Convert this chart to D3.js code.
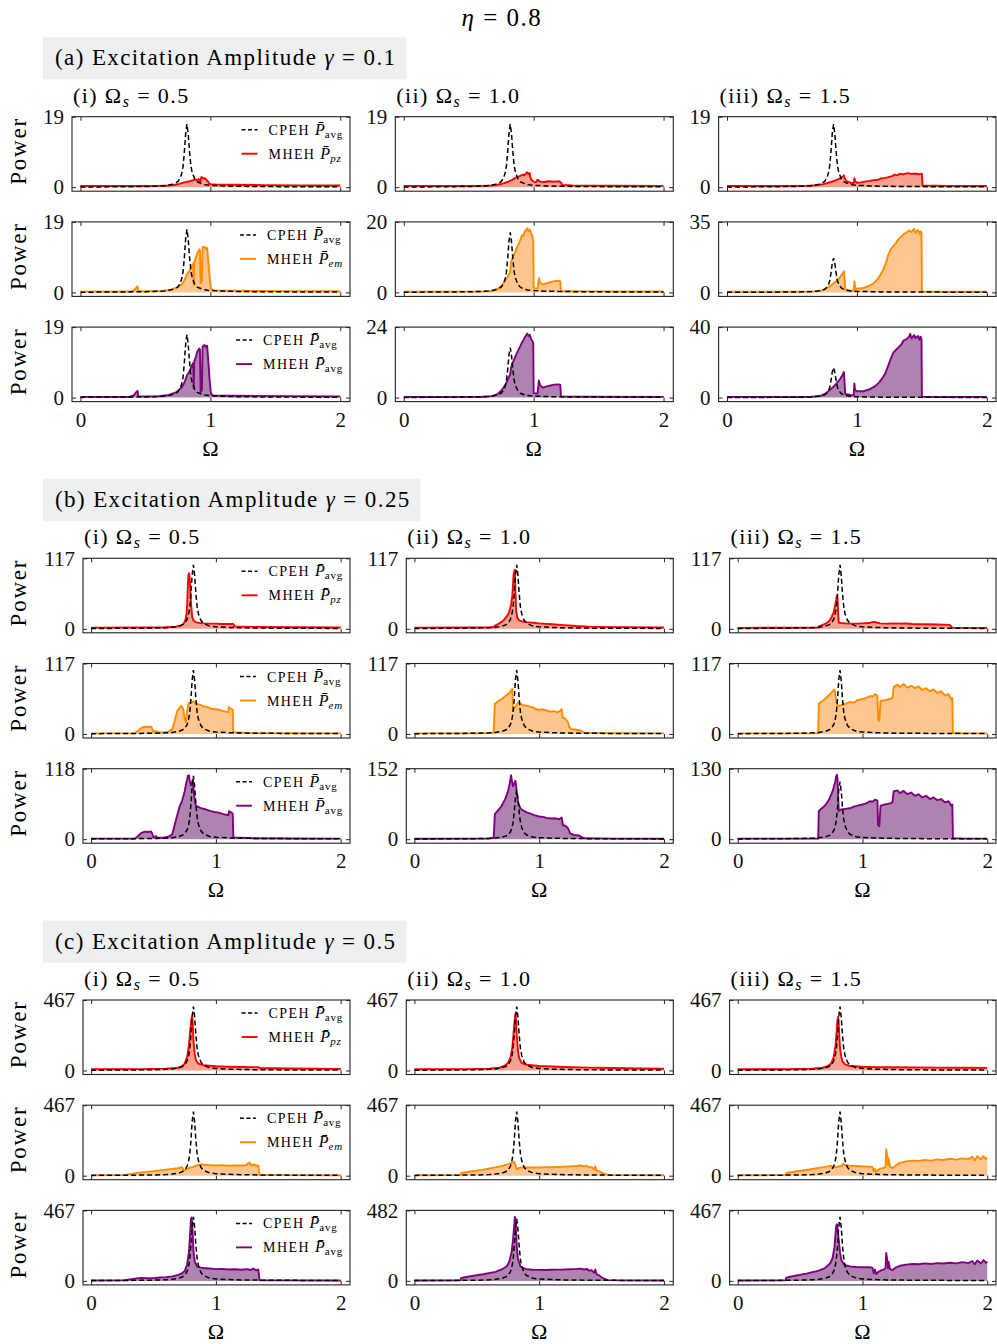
<!DOCTYPE html>
<html>
<head>
<meta charset="utf-8">
<script src="https://cdn.jsdelivr.net/npm/d3@7"></script>
<style>
  body { margin: 0; background: #fff; }
</style>
</head>
<body>
<svg id="fig"></svg>
<script>
// ---- labels / ticks ----
const omegaTicks = [0, 1, 2];
const sectionTags = ["(a)", "(b)", "(c)"];
const gammas = ["0.1", "0.25", "0.5"];
const colTags = ["(i)", "(ii)", "(iii)"];
const omegaS = ["0.5", "1.0", "1.5"];
const kinds = ["pz", "em", "avg"];

// top y tick per [column][row]
const yTopA = [[19, 19, 19], [19, 20, 24], [19, 35, 40]];
const yTopB = [[117, 117, 118], [117, 117, 152], [117, 117, 130]];
const yTopC = [[467, 467, 467], [467, 467, 482], [467, 467, 467]];

// ---- CPEH reference curves [Omega, P] ----
const cpehA = [[0,0.05],[0.3,0.1],[0.5,0.18],[0.6,0.28],[0.65,0.4],[0.7,0.7],[0.73,1.1],[0.75,1.5],[0.77,2.6],[0.78,3.8],[0.79,5.6],[0.8,9.5],[0.81,14.5],[0.82,17],[0.83,14.2],[0.84,9.5],[0.85,5.8],[0.86,4.0],[0.88,2.2],[0.9,1.4],[0.95,0.7],[1.0,0.5],[1.1,0.35],[1.2,0.25],[1.4,0.17],[1.7,0.12],[2.0,0.1]];
const cpehB = [[0,0.5],[0.3,0.8],[0.5,1.2],[0.6,1.9],[0.65,2.6],[0.7,4.2],[0.73,6.5],[0.75,9],[0.77,16],[0.78,23],[0.79,34],[0.8,58],[0.81,90],[0.82,106],[0.83,88],[0.84,58],[0.85,36],[0.86,25],[0.88,14],[0.9,9],[0.95,4.5],[1.0,3.2],[1.1,2.2],[1.2,1.6],[1.4,1.1],[1.7,0.8],[2.0,0.6]];
const cpehC = [[0,2],[0.3,3.2],[0.5,4.8],[0.6,7.5],[0.65,10.5],[0.7,17],[0.73,26],[0.75,36],[0.77,64],[0.78,92],[0.79,136],[0.8,232],[0.81,360],[0.82,424],[0.83,352],[0.84,232],[0.85,145],[0.86,100],[0.88,55],[0.9,36],[0.95,18],[1.0,13],[1.1,9],[1.2,6.5],[1.4,4.5],[1.7,3.2],[2.0,2.5]];

// ---- MHEH curves, gamma = 0.1 ----
const pzA1 = [[0,0.3],[0.3,0.3],[0.5,0.32],[0.6,0.35],[0.68,0.45],[0.72,0.6],[0.76,0.9],[0.8,1.3],[0.84,1.6],[0.87,1.9],[0.89,2.1],[0.9,1.8],[0.91,2.2],[0.915,1.3],[0.925,1.4],[0.93,2.7],[0.94,2.5],[0.95,2.3],[0.96,2.4],[0.97,2.0],[0.98,1.6],[0.99,1.1],[1.0,0.8],[1.05,0.7],[1.2,0.65],[1.4,0.55],[1.7,0.5],[2,0.45]];
const emA1 = [[0,0.2],[0.38,0.22],[0.41,0.5],[0.43,1.3],[0.44,1.6],[0.445,0.35],[0.5,0.3],[0.6,0.35],[0.68,0.6],[0.74,1.2],[0.78,2.2],[0.8,3.2],[0.82,5],[0.84,5.8],[0.86,7.4],[0.868,7.8],[0.872,2],[0.876,8.2],[0.9,10.6],[0.915,11.6],[0.92,11.4],[0.925,2.5],[0.935,3],[0.94,12.2],[0.955,12.3],[0.965,11.6],[0.975,12],[0.985,8],[0.995,4],[1.005,1],[1.02,0.55],[1.2,0.45],[1.6,0.35],[2,0.3]];
const avgA1 = [[0,0.2],[0.38,0.22],[0.41,0.6],[0.43,1.5],[0.44,1.8],[0.445,0.35],[0.5,0.3],[0.6,0.35],[0.68,0.7],[0.74,1.5],[0.78,2.8],[0.8,4],[0.82,6],[0.84,7],[0.86,8.8],[0.868,9.3],[0.872,2.5],[0.876,9.6],[0.9,12.4],[0.915,13.2],[0.92,13],[0.925,1.5],[0.935,2],[0.94,13.8],[0.955,14.2],[0.965,13.6],[0.975,14],[0.985,9.5],[0.995,4.5],[1.005,1],[1.02,0.6],[1.2,0.5],[1.6,0.4],[2,0.3]];
const pzA2 = [[0,0.3],[0.4,0.3],[0.6,0.35],[0.68,0.45],[0.72,0.65],[0.76,0.95],[0.8,1.4],[0.83,1.9],[0.86,2.5],[0.88,2.8],[0.9,3.1],[0.92,3.4],[0.93,3.2],[0.94,3.7],[0.95,4.0],[0.96,3.5],[0.97,3.8],[0.975,2.6],[0.985,1.9],[1.0,1.5],[1.02,1.4],[1.03,2.0],[1.05,1.5],[1.08,1.4],[1.12,1.6],[1.16,1.5],[1.19,1.6],[1.21,1.3],[1.22,0.6],[1.3,0.5],[1.6,0.4],[2,0.35]];
const emA2 = [[0,0.2],[0.6,0.25],[0.68,0.4],[0.72,0.9],[0.75,1.8],[0.78,3.2],[0.8,4.5],[0.82,5.8],[0.825,8.6],[0.84,10],[0.86,11.8],[0.88,13.5],[0.9,15],[0.91,16.2],[0.92,16],[0.93,17.2],[0.94,17.6],[0.95,18.2],[0.96,17.4],[0.97,17.8],[0.98,16.8],[0.99,16],[0.997,14.5],[1.0,1.2],[1.03,1.1],[1.04,4],[1.05,2.8],[1.07,2.2],[1.1,2.6],[1.13,2.9],[1.16,3.2],[1.19,3.3],[1.205,3.1],[1.21,0.4],[1.4,0.3],[2,0.25]];
const avgA2 = [[0,0.2],[0.6,0.28],[0.68,0.5],[0.72,1.1],[0.75,2.3],[0.78,4.2],[0.8,6],[0.82,8],[0.825,10],[0.84,12],[0.86,14],[0.88,16],[0.9,17.8],[0.91,18.8],[0.92,19.4],[0.93,20.4],[0.94,21],[0.95,21.8],[0.96,21],[0.97,21.4],[0.98,20],[0.99,19.2],[0.997,18.5],[1.0,1.5],[1.03,1.4],[1.04,5.8],[1.05,4.2],[1.07,3.4],[1.1,3.8],[1.13,4.1],[1.16,4.4],[1.19,4.5],[1.205,4.3],[1.21,0.4],[1.4,0.3],[2,0.25]];
const pzA3 = [[0,0.3],[0.4,0.3],[0.6,0.35],[0.7,0.55],[0.75,0.9],[0.8,1.4],[0.84,1.9],[0.87,2.4],[0.89,2.8],[0.9,3.2],[0.905,2.4],[0.92,1.6],[0.95,1.2],[0.975,1.1],[0.98,2.4],[0.99,1.5],[1.0,1.2],[1.03,1.3],[1.06,1.5],[1.1,1.7],[1.13,1.9],[1.16,2.0],[1.19,2.4],[1.22,2.5],[1.25,2.8],[1.27,3.0],[1.29,3.4],[1.31,3.2],[1.33,3.6],[1.36,3.5],[1.39,3.8],[1.42,3.6],[1.45,3.7],[1.48,3.5],[1.5,3.6],[1.505,0.45],[1.7,0.35],[2,0.3]];
const emA3 = [[0,0.3],[0.5,0.3],[0.65,0.4],[0.72,0.8],[0.76,1.8],[0.8,3.5],[0.84,5.5],[0.87,7.5],[0.89,9.5],[0.9,10.5],[0.905,6],[0.91,1.5],[0.95,0.9],[0.975,0.8],[0.98,5.5],[0.985,3.5],[0.99,1.6],[1.0,1.8],[1.05,2.2],[1.1,3.4],[1.14,5.2],[1.17,7.5],[1.2,11],[1.22,14],[1.24,18.5],[1.26,21.5],[1.28,23],[1.3,24.5],[1.32,26.5],[1.34,27.5],[1.36,29],[1.38,29.5],[1.4,30.8],[1.42,30],[1.44,31.6],[1.45,29.5],[1.47,31],[1.48,29.2],[1.49,30.4],[1.497,29.5],[1.5,0.4],[1.7,0.3],[2,0.3]];
const avgA3 = [[0,0.3],[0.5,0.3],[0.65,0.45],[0.72,1],[0.76,2.4],[0.8,4.8],[0.84,7.8],[0.87,10.5],[0.89,13],[0.9,14.5],[0.905,8],[0.91,2],[0.95,1.5],[0.975,1.4],[0.98,8],[0.985,5],[0.99,4],[1.0,3.6],[1.05,3.6],[1.1,4.8],[1.14,6.5],[1.17,8.5],[1.2,11.5],[1.22,14],[1.24,18],[1.26,22],[1.28,25.5],[1.3,27],[1.32,28.5],[1.34,30],[1.36,32.5],[1.38,33],[1.4,34.5],[1.41,36.2],[1.42,33.5],[1.44,35.5],[1.45,33.8],[1.47,35],[1.48,32.8],[1.49,34.6],[1.497,33],[1.5,0.4],[1.7,0.3],[2,0.3]];

// ---- MHEH curves, gamma = 0.25 ----
const pzB1 = [[0,2],[0.4,2.2],[0.6,2.6],[0.68,3.5],[0.72,5.5],[0.74,8],[0.755,14],[0.765,25],[0.77,40],[0.775,70],[0.78,90],[0.785,92],[0.79,84],[0.795,65],[0.8,45],[0.805,30],[0.81,20],[0.82,14],[0.84,11],[0.87,9.5],[0.9,9],[0.95,8.5],[1.0,8.5],[1.05,8],[1.1,8.2],[1.14,8],[1.15,4],[1.3,3.2],[1.6,2.6],[2,2.2]];
const emB1 = [[0,1],[0.35,1.2],[0.37,4],[0.4,10],[0.43,12],[0.46,11.5],[0.48,12.5],[0.49,9],[0.5,3],[0.52,5],[0.53,2.5],[0.58,2.5],[0.62,4],[0.65,8],[0.67,22],[0.69,38],[0.71,44],[0.725,47],[0.74,40],[0.75,24],[0.76,20],[0.77,38],[0.78,50],[0.79,53],[0.8,52],[0.82,54],[0.84,51],[0.86,49],[0.88,48],[0.9,46],[0.93,45],[0.96,42],[1.0,41],[1.03,40],[1.06,38],[1.08,37],[1.1,36],[1.105,45],[1.12,42],[1.135,40],[1.14,3],[1.3,1.5],[1.6,1.2],[2,1]];
const avgB1 = [[0,1],[0.35,1.2],[0.37,4],[0.4,10],[0.43,12.5],[0.46,12],[0.48,13],[0.49,9],[0.5,3],[0.52,5],[0.53,2.5],[0.58,2.5],[0.62,4],[0.65,8],[0.67,24],[0.69,40],[0.71,55],[0.73,65],[0.75,80],[0.76,92],[0.77,100],[0.775,106],[0.78,104],[0.785,107],[0.79,98],[0.8,90],[0.81,96],[0.815,100],[0.82,85],[0.83,66],[0.84,56],[0.86,54],[0.88,52],[0.9,51],[0.93,49],[0.96,47],[1.0,45],[1.03,44],[1.06,42],[1.08,41],[1.1,40],[1.105,47],[1.12,45],[1.135,43],[1.14,3],[1.3,1.5],[1.6,1.2],[2,1]];
const pzB2 = [[0,2],[0.4,2.2],[0.6,2.6],[0.63,3],[0.645,5],[0.68,9],[0.71,13],[0.74,20],[0.76,28],[0.775,40],[0.785,55],[0.79,72],[0.795,90],[0.8,95],[0.805,98],[0.81,60],[0.815,30],[0.825,18],[0.84,14],[0.87,12],[0.9,11],[0.95,10],[1.0,9],[1.1,7.5],[1.2,6],[1.3,4.5],[1.4,3.5],[1.6,2.8],[2,2.2]];
const emB2 = [[0,1],[0.5,1.2],[0.6,1.5],[0.635,2.5],[0.645,50],[0.67,54],[0.7,58],[0.73,63],[0.76,68],[0.785,75],[0.79,38],[0.8,42],[0.815,47],[0.83,52],[0.85,50],[0.87,48],[0.9,47],[0.93,45],[0.95,44],[0.98,41],[1.0,40],[1.03,41],[1.06,39],[1.09,37],[1.12,38],[1.15,36],[1.17,39],[1.18,41],[1.19,27],[1.21,25],[1.23,20],[1.24,12],[1.26,8],[1.3,7],[1.33,6],[1.36,2],[1.6,1.3],[2,1]];
const avgB2 = [[0,1],[0.5,1.2],[0.6,1.6],[0.635,3],[0.645,54],[0.67,62],[0.7,72],[0.73,88],[0.75,103],[0.765,122],[0.775,138],[0.78,128],[0.79,114],[0.8,120],[0.81,126],[0.82,102],[0.83,80],[0.85,66],[0.87,62],[0.9,58],[0.93,55],[0.96,52],[1.0,49],[1.03,48],[1.06,46],[1.1,44.5],[1.13,45],[1.16,43],[1.18,47],[1.19,30],[1.21,29],[1.23,24],[1.25,12],[1.28,9],[1.32,8],[1.36,2],[1.6,1.3],[2,1]];
const pzB3 = [[0,1.5],[0.4,1.7],[0.6,2],[0.645,2.2],[0.65,4],[0.7,8],[0.73,12],[0.75,18],[0.77,28],[0.78,38],[0.79,48],[0.795,55],[0.8,52],[0.805,25],[0.81,10],[0.83,9.5],[0.86,9],[0.9,8.5],[0.95,8.5],[1.0,9],[1.05,9.5],[1.08,11],[1.1,11.5],[1.12,10],[1.14,9],[1.2,8.5],[1.25,9],[1.3,8.5],[1.35,8.8],[1.4,8],[1.5,7.5],[1.6,7],[1.7,6.5],[1.72,2],[2,1.5]];
const emB3 = [[0,1],[0.6,1],[0.645,1.2],[0.65,50],[0.7,58],[0.74,66],[0.775,74],[0.785,62],[0.8,46],[0.83,48],[0.86,50],[0.9,53],[0.93,52],[0.96,56],[1.0,58],[1.03,60],[1.06,63],[1.08,62],[1.1,66],[1.12,64],[1.125,24],[1.135,22],[1.145,55],[1.18,56],[1.22,58],[1.24,60],[1.25,78],[1.28,82],[1.3,78],[1.33,83],[1.36,77],[1.39,80],[1.42,76],[1.45,79],[1.48,73],[1.51,76],[1.54,71],[1.57,74],[1.6,68],[1.63,71],[1.66,64],[1.69,66],[1.71,58],[1.72,60],[1.725,2],[1.8,1.2],[2,1]];
const avgB3 = [[0,1],[0.6,1],[0.645,1.2],[0.65,52],[0.7,62],[0.73,72],[0.76,88],[0.78,104],[0.79,116],[0.795,119],[0.8,112],[0.81,52],[0.83,55],[0.86,56],[0.9,57],[0.93,60],[0.96,62],[1.0,64],[1.03,66],[1.06,70],[1.08,69],[1.1,73],[1.12,71],[1.125,26],[1.135,24],[1.145,62],[1.18,64],[1.22,66],[1.24,68],[1.25,88],[1.28,90],[1.3,85],[1.33,89],[1.36,83],[1.39,86],[1.42,80],[1.45,83],[1.48,77],[1.51,80],[1.54,74],[1.57,77],[1.6,72],[1.63,74],[1.66,68],[1.69,70],[1.71,62],[1.72,64],[1.725,2],[1.8,1.2],[2,1]];

// ---- MHEH curves, gamma = 0.5 ----
const pzC1 = [[0,8],[0.4,9],[0.6,12],[0.68,16],[0.72,24],[0.75,45],[0.77,90],[0.785,170],[0.795,270],[0.805,350],[0.81,360],[0.815,300],[0.82,200],[0.83,110],[0.84,70],[0.86,45],[0.9,35],[1.0,28],[1.1,25],[1.2,23],[1.3,22],[1.34,22],[1.35,16],[1.6,13],[2,10]];
const emC1 = [[0,3],[0.25,3.5],[0.28,6],[0.35,15],[0.4,22],[0.45,25],[0.5,30],[0.55,35],[0.6,40],[0.65,45],[0.7,50],[0.72,54],[0.73,56],[0.74,36],[0.76,40],[0.78,48],[0.8,55],[0.82,58],[0.84,66],[0.86,72],[0.88,76],[0.9,72],[0.95,70],[1.0,68],[1.05,70],[1.1,66],[1.15,68],[1.2,67],[1.24,70],[1.27,88],[1.28,70],[1.3,74],[1.33,66],[1.34,68],[1.35,5],[1.5,3.5],[2,3]];
const avgC1 = [[0,3],[0.25,3.5],[0.28,6],[0.35,15],[0.4,20],[0.45,18],[0.5,18],[0.55,22],[0.6,25],[0.65,30],[0.7,40],[0.73,52],[0.75,65],[0.77,110],[0.785,200],[0.795,330],[0.8,410],[0.805,420],[0.81,380],[0.815,300],[0.82,200],[0.83,130],[0.85,95],[0.88,88],[0.9,85],[0.95,82],[1.0,78],[1.05,79],[1.1,75],[1.15,77],[1.2,74],[1.25,78],[1.28,72],[1.3,82],[1.32,70],[1.34,76],[1.35,4],[1.5,3.5],[2,3]];
const pzC2 = [[0,8],[0.4,9],[0.6,12],[0.68,18],[0.72,30],[0.75,50],[0.77,85],[0.785,150],[0.795,250],[0.805,340],[0.81,375],[0.815,330],[0.82,240],[0.83,130],[0.84,80],[0.86,50],[0.9,38],[1.0,30],[1.1,26],[1.2,23],[1.4,19],[1.6,16],[1.8,13],[2,11]];
const emC2 = [[0,3],[0.3,3.5],[0.37,4],[0.375,18],[0.45,28],[0.55,40],[0.65,55],[0.72,68],[0.76,78],[0.79,88],[0.8,92],[0.81,70],[0.82,42],[0.84,52],[0.87,56],[0.9,54],[0.95,55],[1.0,54],[1.05,56],[1.1,56],[1.15,58],[1.2,60],[1.25,62],[1.3,64],[1.33,68],[1.36,62],[1.38,66],[1.4,55],[1.42,58],[1.44,40],[1.45,62],[1.46,35],[1.48,30],[1.5,20],[1.52,14],[1.55,5],[1.7,3.5],[2,3]];
const avgC2 = [[0,3],[0.3,3.5],[0.37,4],[0.375,20],[0.45,32],[0.55,45],[0.65,62],[0.7,78],[0.74,100],[0.76,130],[0.78,200],[0.79,280],[0.8,380],[0.805,438],[0.81,410],[0.815,330],[0.82,240],[0.83,150],[0.85,100],[0.88,85],[0.9,80],[0.95,76],[1.0,75],[1.05,74],[1.1,76],[1.15,77],[1.2,78],[1.25,80],[1.3,82],[1.33,84],[1.36,78],[1.38,82],[1.4,70],[1.42,74],[1.44,55],[1.45,78],[1.46,45],[1.48,38],[1.5,25],[1.52,16],[1.55,5],[1.7,3.5],[2,3]];
const pzC3 = [[0,8],[0.4,9],[0.6,12],[0.68,18],[0.72,28],[0.75,48],[0.77,90],[0.785,170],[0.795,280],[0.8,340],[0.805,355],[0.81,300],[0.815,220],[0.82,150],[0.83,90],[0.84,60],[0.86,40],[0.9,30],[1.0,25],[1.1,22],[1.2,21],[1.4,20],[1.6,19],[1.8,18],[2,17]];
const emC3 = [[0,3],[0.3,3.5],[0.385,4],[0.39,18],[0.45,26],[0.55,38],[0.65,52],[0.72,62],[0.75,66],[0.76,52],[0.78,56],[0.8,60],[0.83,64],[0.845,78],[0.86,70],[0.9,66],[0.95,64],[1.0,62],[1.05,60],[1.08,58],[1.09,30],[1.1,45],[1.11,25],[1.13,42],[1.15,48],[1.17,52],[1.185,60],[1.19,175],[1.2,120],[1.205,70],[1.21,115],[1.22,60],[1.24,50],[1.27,70],[1.3,85],[1.35,95],[1.4,100],[1.45,98],[1.5,105],[1.55,100],[1.6,108],[1.65,104],[1.7,112],[1.75,106],[1.8,115],[1.85,110],[1.88,125],[1.9,100],[1.92,128],[1.95,108],[1.97,130],[1.99,112],[2,118]];
const avgC3 = [[0,3],[0.3,3.5],[0.385,4],[0.39,22],[0.45,32],[0.55,48],[0.65,68],[0.7,85],[0.74,115],[0.76,150],[0.775,220],[0.785,320],[0.79,370],[0.795,375],[0.8,350],[0.81,270],[0.82,190],[0.83,140],[0.85,110],[0.88,100],[0.9,96],[0.95,92],[1.0,90],[1.05,90],[1.08,88],[1.09,50],[1.1,75],[1.11,45],[1.13,62],[1.15,70],[1.17,75],[1.185,85],[1.19,185],[1.2,130],[1.205,85],[1.21,125],[1.22,80],[1.24,72],[1.27,90],[1.3,100],[1.35,108],[1.4,112],[1.45,110],[1.5,116],[1.55,112],[1.6,118],[1.65,115],[1.7,120],[1.75,116],[1.8,124],[1.85,118],[1.88,132],[1.9,110],[1.92,135],[1.95,115],[1.97,138],[1.99,120],[2,128]];

// ---- assemble (section -> column -> row) ----
const cpehBySection = [cpehA, cpehB, cpehC];
const yTopBySection = [yTopA, yTopB, yTopC];
const mhehBySection = [
  [[pzA1, emA1, avgA1], [pzA2, emA2, avgA2], [pzA3, emA3, avgA3]],
  [[pzB1, emB1, avgB1], [pzB2, emB2, avgB2], [pzB3, emB3, avgB3]],
  [[pzC1, emC1, avgC1], [pzC2, emC2, avgC2], [pzC3, emC3, avgC3]],
];

// ---- styling / layout ----
const font = "'Liberation Serif', 'Times New Roman', serif";
const lineColor = { pz: "#ff0000", em: "#ff8c00", avg: "#800080" };
const fillColor = { pz: "#f5a290", em: "#fdc68e", avg: "#af83af" };
const W = 997, H = 1344;
const sectionTop = [116.7, 558.3, 1000];
const rowStep = 105.2;
const frameH = 74.5;
const colStep = 323.3;
const frameLeft = [72, 83, 83];
const frameRight = 350;

const svg = d3.select("#fig").attr("width", W).attr("height", H)
  .attr("font-family", font);

// main title
const title = svg.append("text")
  .attr("x", 502).attr("y", 26)
  .attr("text-anchor", "middle")
  .attr("font-size", 25)
  .attr("letter-spacing", 1.5);
title.append("tspan").attr("font-style", "italic").text("η");
title.append("tspan").text(" = 0.8");

const drawPanel = (s, c, r) => {
  const left = frameLeft[s] + c * colStep;
  const right = Math.min(frameRight + c * colStep, W - 1);
  const top = sectionTop[s] + r * rowStep;
  const yTop = yTopBySection[s][c][r];
  const kind = kinds[r];
  const data = mhehBySection[s][c][r];
  const cpeh = cpehBySection[s];

  const x = d3.scaleLinear().domain([-0.065, 2.075]).range([left, left + (frameRight - frameLeft[s])]);
  const y = d3.scaleLinear().domain([-yTop * 0.057, yTop]).range([top + frameH, top]);
  const g = svg.append("g");

  g.append("path")
    .datum(data)
    .attr("d", d3.area().x((d) => x(d[0])).y0(y(0)).y1((d) => y(d[1])))
    .attr("fill", fillColor[kind]);
  g.append("path")
    .datum(data)
    .attr("d", d3.line().x((d) => x(d[0])).y((d) => y(d[1])))
    .attr("fill", "none")
    .attr("stroke", lineColor[kind])
    .attr("stroke-width", 1.9)
    .attr("stroke-linejoin", "round");
  g.append("path")
    .datum(cpeh)
    .attr("d", d3.line().x((d) => x(d[0])).y((d) => y(d[1])))
    .attr("fill", "none")
    .attr("stroke", "#000")
    .attr("stroke-width", 1.5)
    .attr("stroke-dasharray", "5,3");

  // frame
  g.append("rect")
    .attr("x", left).attr("y", top)
    .attr("width", right - left).attr("height", frameH)
    .attr("fill", "none")
    .attr("stroke", "#222")
    .attr("stroke-width", 1.1);

  const bottomRow = r === 2;
  const xAxis = d3.axisBottom(x).tickValues(omegaTicks).tickSizeInner(-4).tickSizeOuter(0)
    .tickPadding(10).tickFormat(bottomRow ? d3.format("d") : () => "");
  const gx = g.append("g").attr("transform", `translate(0,${top + frameH})`).call(xAxis);
  const gxt = g.append("g").attr("transform", `translate(0,${top})`)
    .call(d3.axisTop(x).tickValues(omegaTicks).tickSizeInner(-4).tickSizeOuter(0).tickFormat(() => ""));
  const gy = g.append("g").attr("transform", `translate(${left},0)`)
    .call(d3.axisLeft(y).tickValues([0, yTop]).tickSizeInner(-4).tickSizeOuter(0).tickPadding(8).tickFormat(d3.format("d")));
  const gyr = g.append("g").attr("transform", `translate(${right},0)`)
    .call(d3.axisRight(y).tickValues([0, yTop]).tickSizeInner(-4).tickSizeOuter(0).tickFormat(() => ""));
  [gx, gxt, gy, gyr].forEach((a) => {
    a.select(".domain").remove();
    a.attr("font-family", font).attr("font-size", 21);
    a.selectAll("line").attr("stroke", "#222");
    a.selectAll("text").attr("fill", "#111");
  });

  if (bottomRow) {
    g.append("text")
      .attr("x", x(1)).attr("y", top + frameH + 54)
      .attr("text-anchor", "middle")
      .attr("font-size", 22)
      .text("Ω");
  }

  if (c === 0) {
    g.append("text")
      .attr("transform", `translate(26,${top + frameH / 2 - 3}) rotate(-90)`)
      .attr("text-anchor", "middle")
      .attr("font-size", 23)
      .attr("letter-spacing", 1.8)
      .text("Power");

    // legend
    const lg = g.append("g");
    const rowsY = [0, 24];
    const entries = [
      { name: "CPEH", sub: "avg", subItalic: false, color: "#000", dash: "4,2.5" },
      { name: "MHEH", sub: kind, subItalic: kind !== "avg", color: lineColor[kind], dash: null },
    ];
    entries.forEach((e, i) => {
      lg.append("line")
        .attr("x1", 0).attr("x2", 16)
        .attr("y1", rowsY[i]).attr("y2", rowsY[i])
        .attr("stroke", e.color)
        .attr("stroke-width", e.dash ? 1.5 : 1.9)
        .attr("stroke-dasharray", e.dash);
      const t = lg.append("text")
        .attr("x", 27).attr("y", rowsY[i] + 5)
        .attr("font-size", 14);
      t.append("tspan").attr("letter-spacing", 1.4).text(e.name);
      t.append("tspan").attr("dx", 5).attr("font-style", "italic").attr("font-size", 16).text("P\u0304");
      t.append("tspan")
        .attr("dy", 3)
        .attr("font-size", 11)
        .attr("letter-spacing", 0.8)
        .attr("font-style", e.subItalic ? "italic" : "normal")
        .text(e.sub);
    });
    const bb = lg.node().getBBox();
    lg.attr("transform", `translate(${right - 7 - (bb.x + bb.width)},${top + 13})`);
  }
};

for (let s = 0; s < 3; s++) {
  const boxTop = sectionTop[s] - 79.4;
  const bg = svg.append("rect")
    .attr("x", 43).attr("y", boxTop)
    .attr("height", 42)
    .attr("fill", "#eeeff1");
  const label = svg.append("text")
    .attr("x", 55).attr("y", boxTop + 28)
    .attr("font-size", 23)
    .attr("letter-spacing", 1.4);
  label.append("tspan").text(`${sectionTags[s]} Excitation Amplitude `);
  label.append("tspan").attr("font-style", "italic").text("γ");
  label.append("tspan").text(` = ${gammas[s]}`);
  const lw = label.node().getComputedTextLength();
  bg.attr("width", lw + 22);

  for (let c = 0; c < 3; c++) {
    const sub = svg.append("text")
      .attr("x", frameLeft[s] + c * colStep + 1)
      .attr("y", sectionTop[s] - 14)
      .attr("font-size", 22)
      .attr("letter-spacing", 1.4);
    sub.append("tspan").text(`${colTags[c]} Ω`);
    sub.append("tspan").attr("font-style", "italic").attr("font-size", 16).attr("dy", 4).text("s");
    sub.append("tspan").attr("dy", -4).text(` = ${omegaS[c]}`);
    for (let r = 0; r < 3; r++) drawPanel(s, c, r);
  }
}
</script>
</body>
</html>
